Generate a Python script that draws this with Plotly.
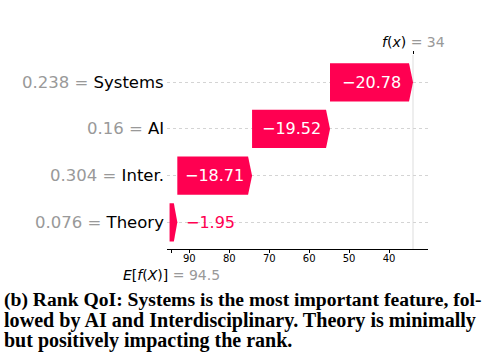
import plotly.graph_objects as go

# ---- data ----
features = ["Systems", "AI", "Inter.", "Theory"]
feature_values = ["0.238", "0.16", "0.304", "0.076"]
shap_values = [-20.78, -19.52, -18.71, -1.95]
fx = 34
expected = 94.5
tick_vals = [90, 80, 70, 60, 50, 40]
caption_lines = [
    "(b) Rank QoI: Systems is the most important feature, fol-",
    "lowed by AI and Interdisciplinary. Theory is minimally",
    "but positively impacting the rank.",
]
caption_sizes = [19.6, 20.1, 20.0]

RED = "#ff0051"
GRAY = "#999999"
W, H = 484, 356
ML, MR, MT, MB = 167, 56, 55, 107
PH = H - MT - MB

def py(pix):
    return (H - MB - pix) / PH

fig = go.Figure()

n = len(features)
ypos = list(range(n - 1, -1, -1))
bar_h = 0.82
head = 1.0
cum = fx
for i, (name, v) in enumerate(zip(features, shap_values)):
    end = cum
    start = cum - v
    y = ypos[i]
    hl = min(head, abs(v) * 0.45)
    xs = [start, end + hl, end, end + hl, start, start]
    ys = [y - bar_h / 2, y - bar_h / 2, y, y + bar_h / 2, y + bar_h / 2, y - bar_h / 2]
    fig.add_trace(go.Scatter(x=xs, y=ys, fill="toself", fillcolor=RED, mode="lines",
                             line=dict(width=0, color=RED), hoverinfo="skip", showlegend=False))
    label = "\u2212" + f"{abs(v):.2f}"
    if abs(v) > 5:
        fig.add_annotation(x=(start + end) / 2, y=y, xref="x", yref="y", text=label,
                           showarrow=False, font=dict(size=16, color="white", family="DejaVu Sans"))
    else:
        fig.add_annotation(x=end, y=y, xref="x", yref="y", text=label, xanchor="left",
                           xshift=7, showarrow=False,
                           font=dict(size=16, color=RED, family="DejaVu Sans"))
    fig.add_annotation(x=0, y=y, xref="paper", yref="y", xanchor="right", xshift=-1,
                       text=f"<span style='color:{GRAY}'>{feature_values[i]} = </span>{name}",
                       showarrow=False, font=dict(size=16.5, color="black", family="DejaVu Sans"))
    cum = start

# f(x) vertical line
fig.add_shape(type="line", x0=fx, x1=fx, xref="x", y0=0, y1=1, yref="paper",
              line=dict(color="#eeeeee", width=2), layer="below")

fig.add_annotation(x=fx, y=1, xref="x", yref="paper", yanchor="bottom", yshift=3,
                   text=f"<i>f</i>(<i>x</i>) <span style='color:{GRAY}'>= {fx}</span>",
                   showarrow=False, font=dict(size=14, color="black", family="DejaVu Sans"))
fig.add_annotation(x=expected, y=0, xref="x", yref="paper", yanchor="top", yshift=-16,
                   text=f"<i>E</i>[<i>f</i>(<i>X</i>)] <span style='color:{GRAY}'>= {expected}</span>",
                   showarrow=False, font=dict(size=14, color="black", family="DejaVu Sans"))

for k, line in enumerate(caption_lines):
    fig.add_annotation(x=0, y=py(300 + 20 * k), xref="paper", yref="paper",
                       xanchor="left", yanchor="middle", xshift=-ML + 2,
                       text=f"<b>{line}</b>", showarrow=False,
                       font=dict(size=caption_sizes[k], color="black", family="Liberation Serif"))

xr = [95.6, 30.25]
fig.update_layout(
    width=W, height=H, margin=dict(l=ML, r=MR, t=MT, b=MB),
    plot_bgcolor="white", paper_bgcolor="white",
    font=dict(family="DejaVu Sans"),
    xaxis=dict(range=xr, showline=True, linecolor="black", linewidth=1, ticks="outside",
               ticklen=3, tickcolor="black", tickvals=[expected] + tick_vals,
               ticktext=[""] + [str(t) for t in tick_vals], tickfont=dict(size=10, color="black"),
               ticklabelstandoff=-3, showgrid=False, zeroline=False),
    xaxis2=dict(range=xr, overlaying="x", side="top", tickvals=[fx], ticks="outside",
                ticklen=3, tickcolor="black", showticklabels=False, showline=False,
                showgrid=False, zeroline=False),
    yaxis=dict(range=[-0.572, n - 1 + 0.585], tickvals=ypos, showticklabels=False,
               showgrid=True, gridcolor="#d4d4d4", griddash="dot", gridwidth=1,
               zeroline=False, showline=False),
)
fig.add_trace(go.Scatter(x=[fx], y=[None], xaxis="x2", showlegend=False, hoverinfo="skip"))

fig.write_html("out.html", post_script="document.body.style.margin='0';",
               config={"displayModeBar": False})
